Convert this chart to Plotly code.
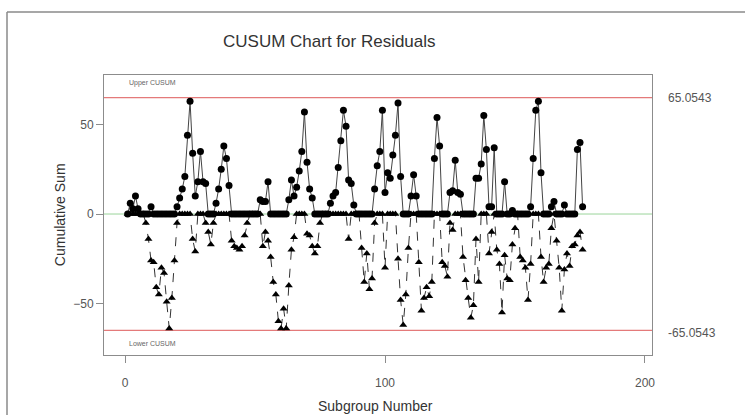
import plotly.graph_objects as go

# ---- data ----
subgroups = list(range(1, 177))

upper_cusum = [
    0, 6, 3, 10, 3, 0, 0, 0, 0, 4,
    0, 0, 0, 0, 0, 0, 0, 0, 0, 4,
    9, 14, 21, 44, 63, 34, 10, 18, 35, 18,
    17, 0, 0, 0, 6, 14, 25, 38, 31, 16,
    0, 0, 0, 0, 0, 0, 0, 0, 0, 0,
    0, 8, 7, 7, 18, 0, 0, 0, 0, 0,
    0, 0, 8, 19, 10, 15, 24, 35, 57, 29,
    14, 9, 0, 0, 0, 0, 0, 0, 6, 10,
    12, 26, 41, 58, 49, 19, 17, 5, 0, 0,
    0, 0, 0, 0, 0, 14, 27, 35, 58, 12,
    23, 20, 33, 44, 62, 21, 0, 0, 0, 10,
    22, 10, 0, 0, 0, 0, 0, 0, 31, 54,
    38, 0, 0, 0, 12, 13, 30, 12, 11, 0,
    0, 0, 0, 0, 20, 20, 28, 55, 36, 4,
    4, 37, 0, 0, 0, 18, 0, 0, 2, 0,
    0, 0, 0, 0, 0, 4, 31, 58, 63, 23,
    0, 0, 0, 4, 7, 0, 0, 0, 5, 0,
    0, 0, 0, 36, 40, 4,
]

lower_cusum = [
    0, 0, 0, 0, 0, 0, 0, -5, -14, -26,
    -27, -41, -45, -30, -33, -49, -64, -47, -26, -5,
    0, 0, 0, 0, 0, -14, -21, 0, 0, 0,
    -5, -10, -17, -5, 0, 0, 0, 0, 0, 0,
    -15, -18, -19, -20, -18, -12, -5, 0, 0, 0,
    0, 0, -18, -10, -15, -24, -38, -45, -60, -64,
    -53, -64, -40, -20, -13, 0, 0, 0, 0, -11,
    -12, -18, -22, -18, -5, 0, 0, 0, 0, 0,
    0, 0, 0, 0, 0, -14, 0, 0, 0, 0,
    -19, -38, -22, -42, -36, -5, 0, 0, 0, -30,
    0, 0, 0, 0, -25, -48, -62, -45, -19, 0,
    0, 0, -27, -54, -47, -41, -46, -38, 0, 0,
    0, -27, -29, -35, -5, -9, 0, 0, 0, -24,
    -37, -47, -58, -51, -14, -38, 0, 0, 0, -22,
    -10, 0, -20, -28, -55, -23, -36, -37, -17, -8,
    0, -24, -26, -30, -48, -28, 0, 0, 0, -24,
    -38, -30, -28, -8, 0, -15, -30, -54, -31, -22,
    -29, -18, -17, -12, -10, -20,
]

upper_limit = 65.0543
lower_limit = -65.0543
x_ticks = [0, 100, 200]
y_ticks = [-50, 0, 50]

FONT = "Liberation Sans, Arial, sans-serif"
X_RANGE = [-8.1, 202.7]
Y_RANGE = [-78.8, 77.7]

fig = go.Figure()

# limit and centre lines
for lim in (upper_limit, lower_limit):
    fig.add_trace(go.Scatter(x=X_RANGE, y=[lim, lim], mode="lines",
                             line=dict(color="#e47a7a", width=1.2),
                             hoverinfo="skip", showlegend=False))
fig.add_trace(go.Scatter(x=X_RANGE, y=[0, 0], mode="lines",
                         line=dict(color="#9ad49a", width=1), hoverinfo="skip", showlegend=False))

fig.add_trace(go.Scatter(
    x=subgroups, y=lower_cusum, mode="lines+markers", name="Lower CUSUM",
    line=dict(color="#333333", width=1, dash="dash"),
    marker=dict(symbol="triangle-up", size=7, color="black"), showlegend=False))
fig.add_trace(go.Scatter(
    x=subgroups, y=upper_cusum, mode="lines+markers", name="Upper CUSUM",
    line=dict(color="#444444", width=1),
    marker=dict(symbol="circle", size=7, color="black"), showlegend=False))

axis_common = dict(showgrid=False, zeroline=False, showline=True, mirror=True,
                   linecolor="#8c8c8c", linewidth=1, ticks="outside", ticklen=7,
                   tickcolor="#8c8c8c", tickfont=dict(family=FONT, size=12, color="#555555"))

fig.update_layout(
    width=745, height=415,
    margin=dict(l=104, r=93, t=75, b=60),
    paper_bgcolor="white", plot_bgcolor="white",
    xaxis=dict(range=X_RANGE, tickvals=x_ticks, ticklabelstandoff=10, **axis_common),
    yaxis=dict(range=Y_RANGE, tickvals=y_ticks, **axis_common),
    showlegend=False,
)

annots = [
    dict(text="CUSUM Chart for Residuals", xref="paper", yref="paper", x=0.412, y=1.118,
         showarrow=False, font=dict(family=FONT, size=17, color="#333333"),
         xanchor="center", yanchor="middle"),
    dict(text="Subgroup Number", xref="paper", yref="paper", x=0.495, y=-0.182,
         showarrow=False, font=dict(family=FONT, size=14, color="#333333"),
         xanchor="center", yanchor="middle"),
    dict(text="Cumulative Sum", xref="paper", yref="paper", x=-0.080, y=0.5,
         showarrow=False, textangle=-90, font=dict(family=FONT, size=14, color="#333333"),
         xanchor="center", yanchor="middle"),
    dict(text="Upper CUSUM", xref="paper", yref="y", x=0.042, y=73,
         showarrow=False, font=dict(family=FONT, size=7, color="#666666"),
         xanchor="left", yanchor="middle"),
    dict(text="Lower CUSUM", xref="paper", yref="y", x=0.042, y=-72.5,
         showarrow=False, font=dict(family=FONT, size=7, color="#666666"),
         xanchor="left", yanchor="middle"),
    dict(text=f"{upper_limit:.4f}", xref="paper", yref="y", x=1.025, y=upper_limit,
         showarrow=False, font=dict(family=FONT, size=12, color="#555555"),
         xanchor="left", yanchor="middle"),
    dict(text=f"{lower_limit:.4f}", xref="paper", yref="y", x=1.025, y=lower_limit - 1.5,
         showarrow=False, font=dict(family=FONT, size=12, color="#555555"),
         xanchor="left", yanchor="middle"),
]
fig.update_layout(annotations=annots)

# outer frame of the figure (top and left edges)
fig.add_shape(type="line", xref="paper", yref="paper", x0=-0.177, x1=1.2, y0=1.225, y1=1.225,
              line=dict(color="#8a8a8a", width=1.5))
fig.add_shape(type="line", xref="paper", yref="paper", x0=-0.177, x1=-0.177, y0=-0.22, y1=1.225,
              line=dict(color="#8a8a8a", width=1.5))

fig.write_html("out.html")
